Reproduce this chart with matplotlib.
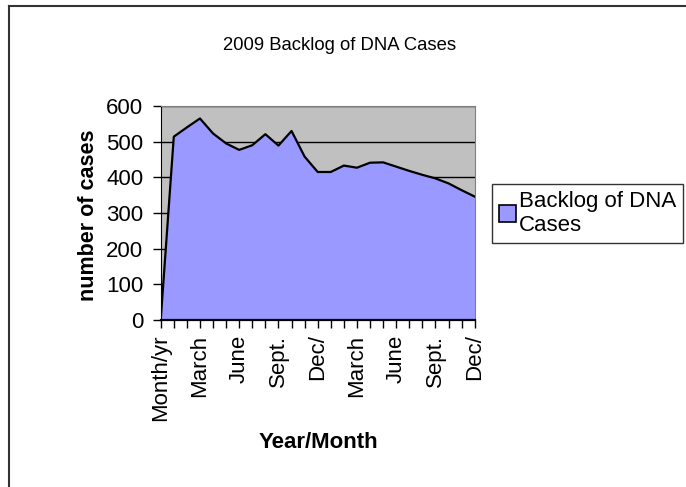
import matplotlib.pyplot as plt
from matplotlib.patches import Patch

OUTPUT_GRAPH = "out.png"

# backlog values, one per month (Jan 2009 .. Dec 2010)
months = list(range(25))
backlog = [0, 514, 540, 565, 523, 495, 477, 490, 521, 489, 530, 458, 415,
           415, 433, 427, 441, 442, 430, 418, 407, 397, 383, 364, 346]
tick_labels = ["Month/yr", "March", "June", "Sept.", "Dec/",
               "March", "June", "Sept.", "Dec/"]
y_ticks = [0, 100, 200, 300, 400, 500, 600]

plt.rcParams['font.family'] = ['Liberation Sans', 'DejaVu Sans']

W, H = 686, 487
fig = plt.figure(figsize=(W / 100, H / 100), dpi=100)
ax = fig.add_axes([160.7 / W, 1 - 320 / H, 314 / W, 214 / H])

ax.set_facecolor("#C0C0C0")
ax.set_axisbelow(True)
ax.grid(True, axis="y", color="black", linewidth=1)

ax.fill_between(months, backlog, 0, color="#9999FF", zorder=2)
ax.plot(months, backlog, color="black", linewidth=1.6, zorder=3)

ax.set_xlim(0, 24)
ax.set_ylim(0, 600)
ax.set_yticks(y_ticks)
ax.set_yticklabels([str(v) for v in y_ticks], fontsize=16)

labels = [""] * len(months)
for i, lab in enumerate(tick_labels):
    labels[i * 3] = lab
ax.set_xticks(months)
ax.set_xticklabels(labels, rotation=90, fontsize=16)

ax.tick_params(axis="both", direction="out", length=5.5, width=1, color="black")
ax.tick_params(axis="y", pad=7)
ax.tick_params(axis="x", pad=5)

for side in ("top", "right"):
    ax.spines[side].set_color("#808080")
for side in ("left", "bottom"):
    ax.spines[side].set_color("black")
ax.spines["bottom"].set_linewidth(1.6)

fig.text(340 / W, 1 - 45 / H, "2009 Backlog of DNA Cases", fontsize=13.3,
         ha="center", va="center")
fig.text(88 / W, 1 - 215 / H, "number of cases", fontsize=15.5,
         fontweight="bold", rotation=90, ha="center", va="center")
fig.text(318 / W, 1 - 443 / H, "Year/Month", fontsize=16,
         fontweight="bold", ha="center", va="center")

handle = Patch(facecolor="#9999FF", edgecolor="black", linewidth=1.2)
leg = fig.legend([handle], ["Backlog of DNA\nCases"], loc="upper left",
                 bbox_to_anchor=(492 / W, 1 - 184 / H), fontsize=16,
                 frameon=True, fancybox=False, handlelength=0.8,
                 handleheight=0.8, handletextpad=0.1, borderpad=0.3,
                 borderaxespad=0, labelspacing=0)
leg.get_frame().set_edgecolor("black")
leg.get_frame().set_linewidth(1)

# outer chart border (top and left edges visible)
fig.add_artist(plt.Line2D([9 / W, 1], [1 - 6 / H, 1 - 6 / H],
                          color="#333333", linewidth=1.5))
fig.add_artist(plt.Line2D([9 / W, 9 / W], [0, 1 - 6 / H],
                          color="#333333", linewidth=1.5))

fig.savefig(OUTPUT_GRAPH, dpi=100)
